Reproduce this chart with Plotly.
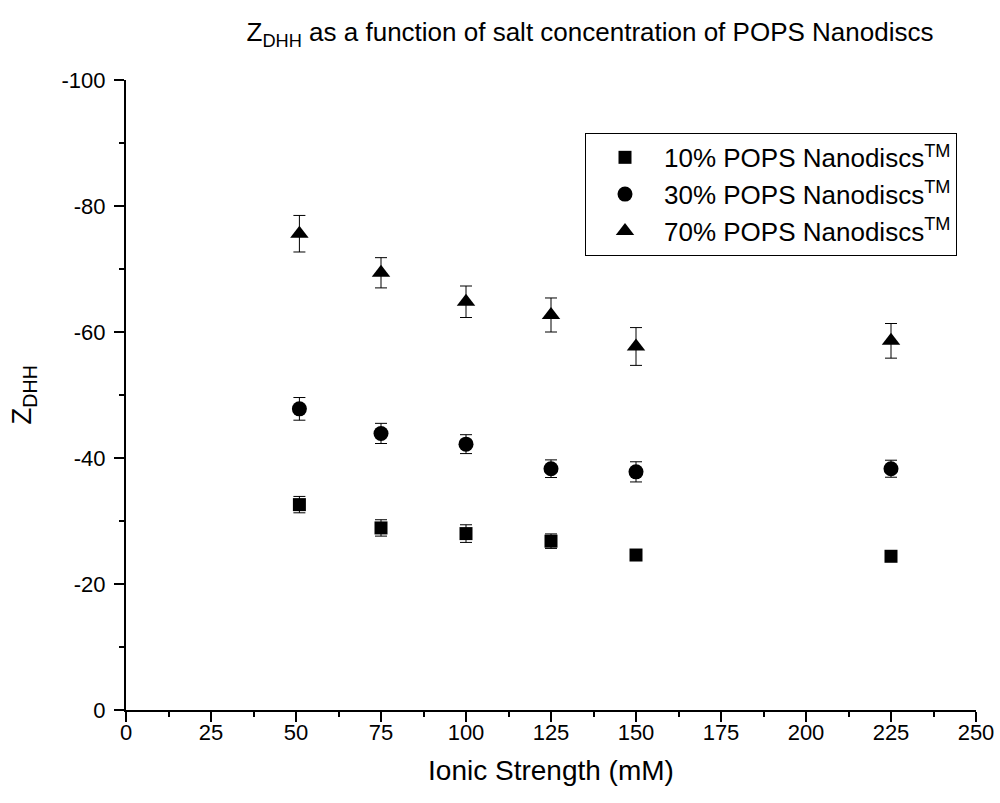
import plotly.graph_objects as go

ionic_strength = [51, 75, 100, 125, 150, 225]

z_10 = [-32.6, -28.9, -28.0, -26.8, -24.6, -24.4]
err_10 = [1.3, 1.3, 1.4, 1.15, 0.4, 0.4]

z_30 = [-47.8, -43.9, -42.2, -38.3, -37.8, -38.3]
err_30 = [1.8, 1.6, 1.5, 1.4, 1.6, 1.35]

z_70 = [-75.6, -69.4, -64.8, -62.7, -57.7, -58.6]
err_70 = [2.9, 2.4, 2.5, 2.7, 3.0, 2.75]

series_names = ["10% POPS Nanodiscs<sup>TM</sup>",
                "30% POPS Nanodiscs<sup>TM</sup>",
                "70% POPS Nanodiscs<sup>TM</sup>"]

y_tickvals = [0, -20, -40, -60, -80, -100]
y_ticktext = ["0", "-20", "-40", "-60", "-80", "-100"]
x_tickvals = [0, 25, 50, 75, 100, 125, 150, 175, 200, 225, 250]

FONT = "Liberation Sans, Arial, sans-serif"

fig = go.Figure()
specs = [(z_10, err_10, "square", 13), (z_30, err_30, "circle", 15), (z_70, err_70, "triangle-up", 16)]
for name, (ys, es, sym, sz) in zip(series_names, specs):
    fig.add_trace(go.Scatter(
        x=ionic_strength, y=ys, mode="markers", name=name,
        marker=dict(symbol=sym, size=sz, color="black", line=dict(width=0)),
        error_y=dict(type="data", array=es, visible=True, color="black", thickness=1, width=6),
    ))

fig.update_layout(
    width=1000, height=803,
    margin=dict(l=126, r=24, t=80, b=93, autoexpand=False),
    paper_bgcolor="white", plot_bgcolor="white",
    font=dict(family=FONT, color="black", size=22),
    title=dict(text="Z<sub>DHH</sub> as a function of salt concentration of POPS Nanodiscs",
               x=0.59, xanchor="center", y=0.96, yanchor="middle",
               font=dict(size=26, family=FONT)),
    showlegend=True,
    legend=dict(x=0.54, y=0.916, xanchor="left", yanchor="top",
                bordercolor="black", borderwidth=1, bgcolor="white",
                itemwidth=68,
                font=dict(size=26, family=FONT)),
)

fig.update_xaxes(
    range=[0, 250], tickmode="array", tickvals=x_tickvals,
    showline=True, linecolor="black", linewidth=2,
    ticks="outside", ticklen=10, tickwidth=2, tickcolor="black",
    minor=dict(tickmode="linear", tick0=0, dtick=12.5, ticks="outside", ticklen=5, tickwidth=2, tickcolor="black"),
    showgrid=False, zeroline=False, automargin=False,
    title=dict(text="Ionic Strength (mM)", font=dict(size=28, family=FONT), standoff=16),
    tickfont=dict(size=22), ticklabelstandoff=-8,
)
fig.update_yaxes(
    range=[0, -100], tickmode="array", tickvals=y_tickvals, ticktext=y_ticktext,
    showline=True, linecolor="black", linewidth=2,
    ticks="outside", ticklen=10, tickwidth=2, tickcolor="black",
    minor=dict(tickmode="linear", tick0=0, dtick=10, ticks="outside", ticklen=5, tickwidth=2, tickcolor="black"),
    showgrid=False, zeroline=False, automargin=False,
    title=dict(text="Z<sub>DHH</sub>", font=dict(size=28, family=FONT), standoff=22),
    tickfont=dict(size=22), ticklabelstandoff=4,
)

fig.write_html("out.html")
